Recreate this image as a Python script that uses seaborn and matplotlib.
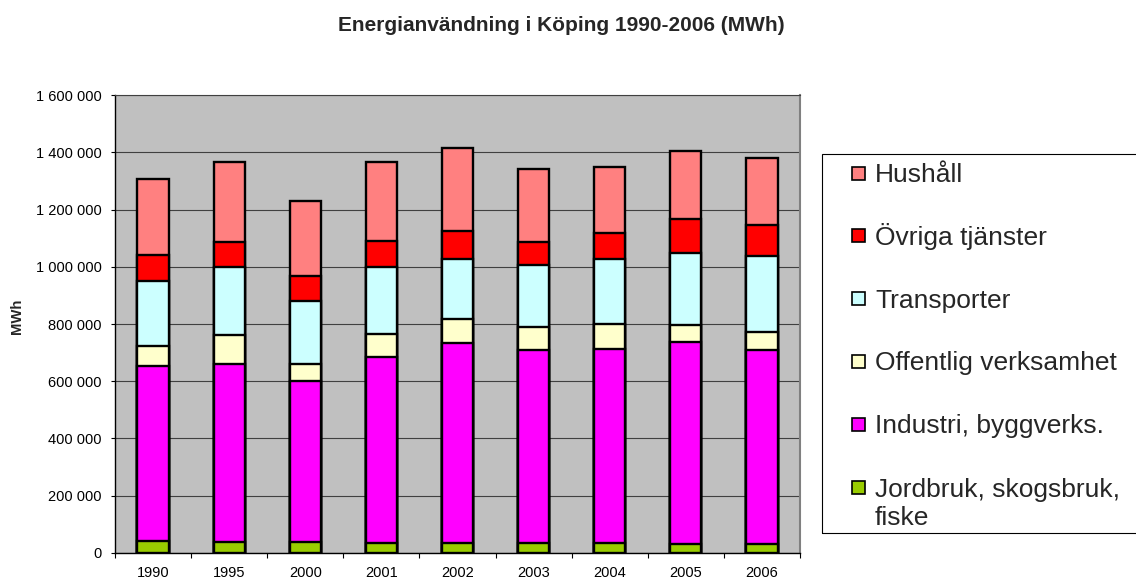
import numpy as np
import pandas as pd
import matplotlib
matplotlib.use("Agg")
import matplotlib.pyplot as plt
from matplotlib.patches import Rectangle
from matplotlib.ticker import FuncFormatter
import seaborn as sns

# Energy use per sector (MWh)
years = ["1990", "1995", "2000", "2001", "2002", "2003", "2004", "2005", "2006"]

jordbruk = [40000, 37000, 37000, 35000, 35000, 35000, 34000, 30000, 30000]
industri = [612000, 622000, 563000, 650000, 698000, 675000, 679000, 706000, 680000]
offentlig = [70000, 101000, 60000, 81000, 86000, 81000, 87000, 59000, 62000]
transporter = [228000, 240000, 219000, 234000, 209000, 214000, 228000, 254000, 265000]
ovriga = [93000, 87000, 90000, 90000, 96000, 83000, 92000, 117000, 108000]
hushall = [264000, 279000, 262000, 276000, 291000, 254000, 228000, 239000, 235000]

# stacking order, bottom to top
series_names = ["Jordbruk, skogsbruk,\nfiske", "Industri, byggverks.",
                "Offentlig verksamhet", "Transporter", "Övriga tjänster", "Hushåll"]
series_values = [jordbruk, industri, offentlig, transporter, ovriga, hushall]
series_colors = ["#99CC00", "#FF00FF", "#FFFFCC", "#CCFFFF", "#FF0000", "#FF8080"]

title = "Energianvändning i Köping 1990-2006 (MWh)"
y_label = "MWh"

# long table with running totals per year
rows = []
for name, vals in zip(series_names, series_values):
    for yr, v in zip(years, vals):
        rows.append({"year": yr, "sector": name, "value": v})
df = pd.DataFrame(rows)
df["sector"] = pd.Categorical(df["sector"], categories=series_names, ordered=True)
df = df.sort_values(["year", "sector"])
df["top"] = df.groupby("year", observed=True)["value"].cumsum()

sns.set_style("white")
plt.rcParams["font.family"] = ["Liberation Sans", "DejaVu Sans"]

W, H = 1136, 580
fig = plt.figure(figsize=(W / 100, H / 100), dpi=100)
fig.patch.set_facecolor("white")
ax = fig.add_axes([115 / W, 1 - 552.7 / H, 685 / W, 457.4 / H])
ax.set_facecolor("#C0C0C0")

# stacked bars: draw running totals from the tallest down so each layer overlays
for name, color in zip(series_names[::-1], series_colors[::-1]):
    sub = df[df["sector"] == name]
    sns.barplot(data=sub, x="year", y="top", order=years, color=color,
                saturation=1, width=0.41, edgecolor="black", linewidth=1.7,
                errorbar=None, ax=ax)

ax.set_xlim(-0.5, len(years) - 0.5)
ax.set_ylim(0, 1600000)
ax.set_yticks(np.arange(0, 1600001, 200000))
ax.yaxis.set_major_formatter(FuncFormatter(lambda v, p: f"{v:,.0f}".replace(",", " ")))
ax.set_xlabel("")
ax.set_ylabel("")

ax.set_axisbelow(True)
ax.yaxis.grid(True, color="#404040", linewidth=0.8)
ax.xaxis.grid(False)

ax.tick_params(axis="y", which="major", direction="out", length=3, width=0.8,
               pad=6.5, labelsize=10.5, colors="black", left=True)
ax.tick_params(axis="x", which="major", length=0, pad=9.5, labelsize=10.5,
               colors="black")
ax.set_xticks(np.arange(-0.5, len(years), 1.0), minor=True)
ax.tick_params(axis="x", which="minor", direction="out", length=3.6, width=0.8,
               color="black", bottom=True)

for side in ("left", "bottom"):
    ax.spines[side].set_color("black")
    ax.spines[side].set_linewidth(1.0)
ax.spines["top"].set_color("#404040")
ax.spines["top"].set_linewidth(0.8)
ax.spines["right"].set_color("#808080")
ax.spines["right"].set_linewidth(1.5)

fig.text(561 / W, 1 - 30.7 / H, title, ha="center", va="baseline",
         fontsize=15, fontweight="bold")
fig.text(17.5 / W, 1 - 316.5 / H, y_label, ha="center", va="center",
         rotation=90, fontsize=10.7, fontweight="bold")

# legend box, listed top layer first
fig.patches.append(Rectangle((822 / W, 1 - 533.3 / H), 330 / W, (533.3 - 154) / H,
                             transform=fig.transFigure, fill=False,
                             edgecolor="black", linewidth=0.8))
line_step = 29.0
for i, (name, color) in enumerate(zip(series_names[::-1], series_colors[::-1])):
    yc = 173 + i * 62.8
    fig.patches.append(Rectangle((852 / W, 1 - (yc + 6.5) / H), 13 / W, 13 / H,
                                 transform=fig.transFigure, facecolor=color,
                                 edgecolor="black", linewidth=1.2))
    # baseline alignment follows the last line, so push wrapped labels down
    extra = (name.count("\n")) * line_step
    fig.text(875 / W, 1 - (yc + 9 + extra) / H, name, ha="left", va="baseline",
             fontsize=19, linespacing=1.23)

fig.savefig("out.png", dpi=100)
